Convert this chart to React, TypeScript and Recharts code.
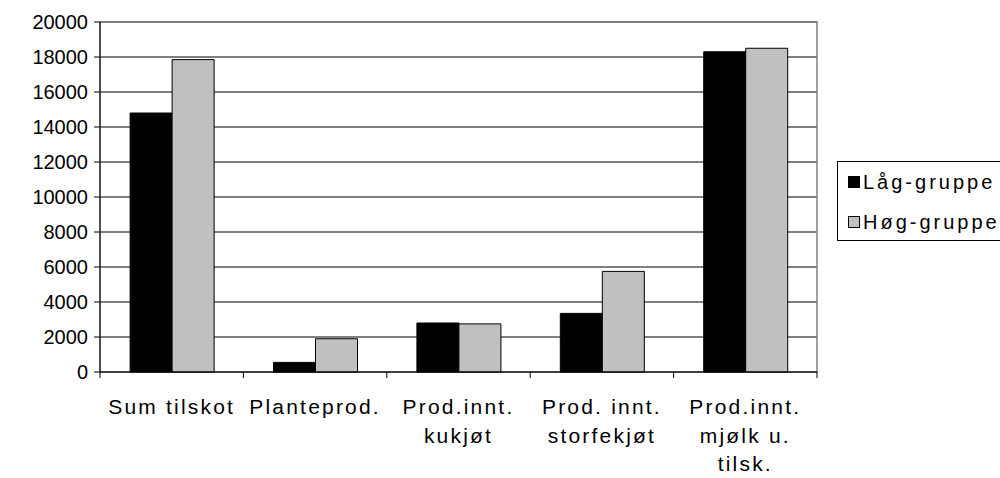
import { BarChart, Bar, XAxis, YAxis, CartesianGrid, ReferenceArea } from 'recharts'

const categories = ['Sum tilskot', 'Planteprod.', 'Prod.innt.\nkukjøt', 'Prod. innt.\nstorfekjøt', 'Prod.innt.\nmjølk u.\ntilsk.']
const lagGruppe = [14800, 550, 2800, 3350, 18300]
const hogGruppe = [17850, 1900, 2750, 5750, 18500]
const yTicks = [0, 2000, 4000, 6000, 8000, 10000, 12000, 14000, 16000, 18000, 20000]

const data = categories.map((name, i) => ({ name, lag: lagGruppe[i], hog: hogGruppe[i] }))

const FONT = '"Liberation Sans", Arial, sans-serif'
const BAND = 717 / categories.length

function XTick(props: any) {
  const { x, y, payload, index } = props
  const lines = String(payload.value).split('\n')
  const top = y - 8
  return (
    <g>
      <line x1={x - BAND / 2} x2={x - BAND / 2} y1={top} y2={top + 6} stroke="#000" />
      {index === categories.length - 1 && (
        <line x1={x + BAND / 2} x2={x + BAND / 2} y1={top} y2={top + 6} stroke="#000" />
      )}
      {lines.map((l, i) => (
        <text key={i} x={x} y={top + 42 + i * 28.5} textAnchor="middle" fontSize={21} letterSpacing={2.2} fill="#000" fontFamily={FONT}>
          {l}
        </text>
      ))}
    </g>
  )
}

function YTick(props: any) {
  const { x, y, payload } = props
  return (
    <text x={x - 4} y={y + 7} textAnchor="end" fontSize={20} fill="#000" fontFamily={FONT}>
      {payload.value}
    </text>
  )
}

const legendItems = [
  { label: 'Låg-gruppe', color: '#000' },
  { label: 'Høg-gruppe', color: '#c0c0c0' },
]

function LegendBox() {
  return (
    <div style={{ position: 'absolute', left: 837, top: 161, border: '1px solid #000', width: 200, height: 80, boxSizing: 'border-box', paddingLeft: 10, fontFamily: FONT }}>
      {legendItems.map((it) => (
        <div key={it.label} style={{ display: 'flex', alignItems: 'center', height: 40 }}>
          <span style={{ width: 12, height: 12, background: it.color, border: '1px solid #000', boxSizing: 'border-box', marginRight: 3 }} />
          <span style={{ fontSize: 20, letterSpacing: 3, color: '#000' }}>{it.label}</span>
        </div>
      ))}
    </div>
  )
}

export default function App() {
  return (
    <div style={{ position: 'absolute', left: 0, top: 0, width: 1000, height: 478, overflow: 'hidden', background: '#fff' }}>
      <BarChart
        width={1000}
        height={478}
        data={data}
        margin={{ top: 22, right: 183, bottom: 0, left: 0 }}
        barCategoryGap="21%"
        barGap={0}
      >
        <CartesianGrid vertical={false} stroke="#000" />
        <XAxis dataKey="name" interval={0} stroke="#000" tickLine={false} tick={<XTick />} height={106} />
        <YAxis
          width={100}
          domain={[0, 20000]}
          ticks={yTicks}
          interval={0}
          stroke="#000"
          tickSize={6}
          tick={<YTick />}
        />
        <ReferenceArea y1={0} y2={20000} fill="none" stroke="#808080" strokeWidth={1.5} ifOverflow="visible" />
        <Bar dataKey="lag" name="Låg-gruppe" fill="#000" stroke="#000" isAnimationActive={false} />
        <Bar dataKey="hog" name="Høg-gruppe" fill="#c0c0c0" stroke="#000" isAnimationActive={false} />
      </BarChart>
      <LegendBox />
    </div>
  )
}
